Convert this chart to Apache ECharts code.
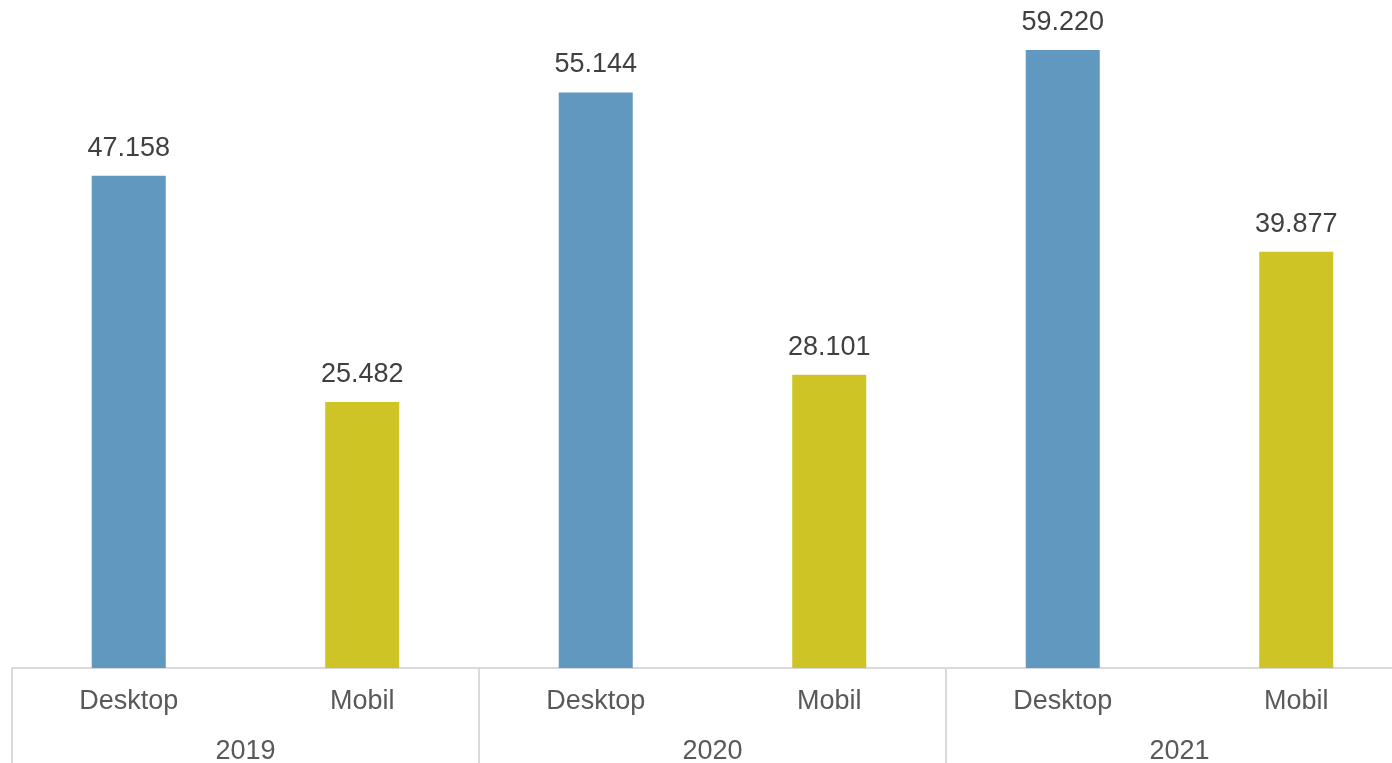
<!DOCTYPE html>
<html>
<head>
<meta charset="utf-8">
<script src="https://cdn.jsdelivr.net/npm/echarts@6/dist/echarts.min.js"></script>
<style>
  html, body { margin: 0; padding: 0; background: #fff; }
  #chart { width: 1392px; height: 763px; }
</style>
</head>
<body>
<div id="chart"></div>
<script>
var years = ['2019', '2020', '2021'];
var devices = ['Desktop', 'Mobil', 'Desktop', 'Mobil', 'Desktop', 'Mobil'];
var values = [47158, 25482, 55144, 28101, 59220, 39877];
var colors = { Desktop: '#6098c0', Mobil: '#cec426' };

function fmt(v) {
  return String(v).replace(/\B(?=(\d{3})+(?!\d))/g, '.');
}

var chart = echarts.init(document.getElementById('chart'));
var font = "'Liberation Sans', Arial, sans-serif";

var option = {
  animation: false,
  grid: { left: 12, right: -21, top: 0, bottom: 95, outerBoundsMode: 'none', containLabel: false },
  xAxis: [
    {
      type: 'category',
      data: devices,
      axisLine: { lineStyle: { color: '#d9d9d9', width: 2 } },
      axisTick: { show: false },
      axisLabel: { interval: 0, margin: 20, fontSize: 27, color: '#595959', fontFamily: font }
    },
    {
      type: 'category',
      position: 'bottom',
      data: years,
      axisLine: { show: false },
      axisTick: { show: true, interval: 0, length: 95, lineStyle: { color: '#d9d9d9', width: 2 } },
      axisLabel: { interval: 0, margin: 70, fontSize: 27, color: '#595959', fontFamily: font }
    }
  ],
  yAxis: { type: 'value', min: 0, max: 64000, show: false, splitLine: { show: false } },
  series: [
    {
      type: 'bar',
      xAxisIndex: 0,
      barWidth: '31.7%',
      data: values.map(function (v, i) {
        return { value: v, itemStyle: { color: colors[devices[i]] } };
      }),
      label: {
        show: true,
        position: 'top',
        distance: 14,
        fontSize: 27,
        color: '#404040',
        fontFamily: font,
        formatter: function (p) { return fmt(p.value); }
      }
    }
  ]
};

chart.setOption(option);
</script>
</body>
</html>
